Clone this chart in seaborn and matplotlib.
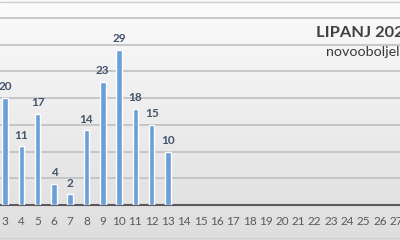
import numpy as np
import pandas as pd
import matplotlib
matplotlib.use("Agg")
import matplotlib.pyplot as plt
import seaborn as sns
from matplotlib.colors import LinearSegmentedColormap

days = list(range(1, 31))
cases = [None, None, 20, 11, 17, 4, 2, 14, 23, 29, 18, 15, 10] + [None] * 17
title = "LIPANJ 2021"
subtitle = "novooboljeli"

sns.set_theme(style="white")
plt.rcParams['font.family'] = ['Lato', 'DejaVu Sans']

df = pd.DataFrame({"day": days, "cases": [np.nan if v is None else v for v in cases]})

W, H = 400, 240
fig = plt.figure(figsize=(W / 100, H / 100), dpi=100)

# background gradient
bg = fig.add_axes([0, 0, 1, 1], zorder=0)
grad = np.linspace(0, 1, 256).reshape(-1, 1)
cmap = LinearSegmentedColormap.from_list("bg", ["#fbfbfb", "#dedede"])
bg.imshow(grad, aspect="auto", cmap=cmap, extent=[0, 1, 0, 1], origin="upper")
bg.set_axis_off()

px_per_day = 16.3
x0 = 3 - 5 / px_per_day
x1 = 3 + (W - 5) / px_per_day
y_zero_px = 205
px_per_unit = 5.35
ax_bottom = (H - y_zero_px) / H
ax_top_px = 2
ax = fig.add_axes([0, ax_bottom, 1, (y_zero_px - ax_top_px) / H], zorder=1)
ax.patch.set_alpha(0)
ymax = (y_zero_px - ax_top_px) / px_per_unit

sns.barplot(data=df, x="day", y="cases", ax=ax, color="#6a9fd8", width=0.34,
            native_scale=True, saturation=1, zorder=3)
ax.set_xticks(days)
ax.set_xticklabels([str(d) for d in days], fontsize=8.5, color="#595959")
ax.set_yticks(np.arange(0, 40, 5))
ax.set_xlim(x0, x1)
ax.set_ylim(0, ymax)
ax.yaxis.grid(True, color="#c3c3c3", linewidth=1.3, zorder=0)
ax.set_axisbelow(True)
ax.set_xlabel("")
ax.set_ylabel("")
ax.set_yticklabels([])
ax.tick_params(axis="y", length=0)
ax.tick_params(axis="x", length=0, pad=8)
for s in ["top", "right", "left"]:
    ax.spines[s].set_visible(False)
ax.spines["bottom"].set_color("#5a5a5a")
ax.spines["bottom"].set_linewidth(1.5)

for d, v in zip(days, cases):
    if v is not None:
        ax.annotate(str(v), (d, v), xytext=(0, 4), textcoords="offset points",
                    ha="center", va="bottom", fontsize=8.5, fontweight="bold",
                    color="#44546a")

bg.axhline(1 - 2 / H, color="#d0d0d0", linewidth=1)
bg.axhline(1 - 238 / H, color="#d0d0d0", linewidth=1)
bg.set_xlim(0, 1)
bg.set_ylim(0, 1)

fig.text(316 / W, 1 - 33 / H, title, ha="left", va="center", fontsize=11.8,
         fontweight="bold", color="#404040")
fig.text(326 / W, 1 - 52 / H, subtitle, ha="left", va="center", fontsize=10.3,
         color="#3a3a3a")

fig.savefig("out.png", dpi=100)
